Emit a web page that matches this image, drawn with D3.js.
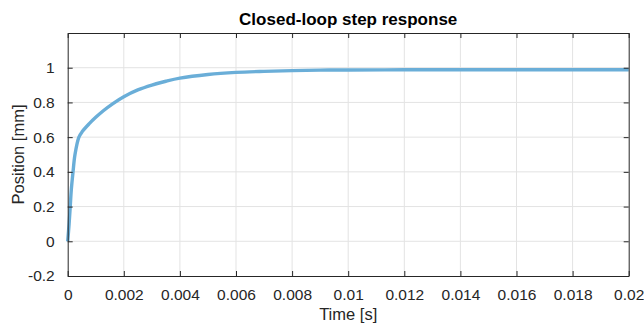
<!DOCTYPE html>
<html>
<head>
<meta charset="utf-8">
<script src="https://cdn.jsdelivr.net/npm/d3@7"></script>
<style>
  html, body { margin: 0; padding: 0; background: #fff; }
  text { font-family: "Liberation Sans", Arial, sans-serif; fill: #262626; }
</style>
</head>
<body>
<div id="chart"></div>
<script>
// step response samples
const timeS = [0, 0.00005, 0.00009, 0.00013, 0.00019, 0.00026, 0.0004, 0.00052, 0.00076, 0.001,
  0.00127, 0.0016, 0.002, 0.0025, 0.003, 0.0035, 0.004, 0.005, 0.006, 0.007,
  0.008, 0.009, 0.01, 0.012, 0.014, 0.016, 0.018, 0.02];
const positionMm = [0, 0.1, 0.2, 0.3, 0.4, 0.5, 0.6, 0.632, 0.676, 0.714,
  0.752, 0.792, 0.833, 0.872, 0.9, 0.922, 0.94, 0.961, 0.973, 0.979,
  0.983, 0.986, 0.987, 0.988, 0.988, 0.988, 0.988, 0.988];
const xTicks = [0, 0.002, 0.004, 0.006, 0.008, 0.01, 0.012, 0.014, 0.016, 0.018, 0.02];
const yTicks = [-0.2, 0, 0.2, 0.4, 0.6, 0.8, 1];

const width = 644, height = 324;
const margin = {top: 33, right: 15.3, bottom: 48, left: 67.7};

const svg = d3.select("#chart").append("svg")
    .attr("width", width)
    .attr("height", height);

const x = d3.scaleLinear().domain([0, 0.02]).range([margin.left, width - margin.right]);
const y = d3.scaleLinear().domain([-0.2, 1.2]).range([height - margin.bottom, margin.top]);

const fmt = d => d === 0 ? "0" : d3.format("~g")(d).replace("\u2212", "-");

// grid
svg.append("g").selectAll("line")
    .data(xTicks.slice(1, -1))
    .join("line")
    .attr("x1", d => x(d)).attr("x2", d => x(d))
    .attr("y1", y(-0.2)).attr("y2", y(1.2))
    .attr("stroke", "#e3e3e3").attr("stroke-width", 1);
svg.append("g").selectAll("line")
    .data(yTicks.slice(1))
    .join("line")
    .attr("x1", x(0)).attr("x2", x(0.02))
    .attr("y1", d => y(d)).attr("y2", d => y(d))
    .attr("stroke", "#e3e3e3").attr("stroke-width", 1);

// response curve
const line = d3.line()
    .x((d, i) => x(timeS[i]))
    .y(d => y(d))
    .curve(d3.curveCatmullRom.alpha(0.5));

svg.append("path")
    .datum(positionMm)
    .attr("d", line)
    .attr("fill", "none")
    .attr("stroke", "#6aaed8")
    .attr("stroke-width", 3.4)
    .attr("stroke-linejoin", "round");

// axes (ticks pointing inward, box on)
const tickLen = 5;
const bottomAxis = d3.axisBottom(x).tickValues(xTicks).tickFormat(fmt).tickSizeInner(-tickLen).tickSizeOuter(0).tickPadding(13);
const topAxis = d3.axisTop(x).tickValues(xTicks).tickFormat("").tickSizeInner(-tickLen).tickSizeOuter(0);
const leftAxis = d3.axisLeft(y).tickValues(yTicks).tickFormat(fmt).tickSizeInner(-tickLen).tickSizeOuter(0).tickPadding(13);
const rightAxis = d3.axisRight(y).tickValues(yTicks).tickFormat("").tickSizeInner(-tickLen).tickSizeOuter(0);

function styleAxis(g) {
  g.select(".domain").attr("stroke", "#262626").attr("stroke-width", 1);
  g.selectAll(".tick line").attr("stroke", "#262626");
  g.selectAll(".tick text").attr("font-size", 15.5).attr("fill", "#262626")
    .attr("font-family", "'Liberation Sans', Arial, sans-serif");
}

svg.append("g").attr("transform", `translate(0,${y(-0.2)})`).call(bottomAxis).call(styleAxis);
svg.append("g").attr("transform", `translate(0,${y(1.2)})`).call(topAxis).call(styleAxis);
svg.append("g").attr("transform", `translate(${x(0)},0)`).call(leftAxis).call(styleAxis);
svg.append("g").attr("transform", `translate(${x(0.02)},0)`).call(rightAxis).call(styleAxis);

// title and labels
svg.append("text")
    .attr("x", (x(0) + x(0.02)) / 2)
    .attr("y", 25)
    .attr("text-anchor", "middle")
    .attr("font-size", 17)
    .attr("font-weight", "bold")
    .style("fill", "#000")
    .text("Closed-loop step response");

svg.append("text")
    .attr("x", (x(0) + x(0.02)) / 2)
    .attr("y", 320)
    .attr("text-anchor", "middle")
    .attr("font-size", 16.5)
    .text("Time [s]");

svg.append("text")
    .attr("transform", `translate(24,${(y(-0.2) + y(1.2)) / 2}) rotate(-90)`)
    .attr("text-anchor", "middle")
    .attr("font-size", 16.5)
    .text("Position [mm]");
</script>
</body>
</html>
